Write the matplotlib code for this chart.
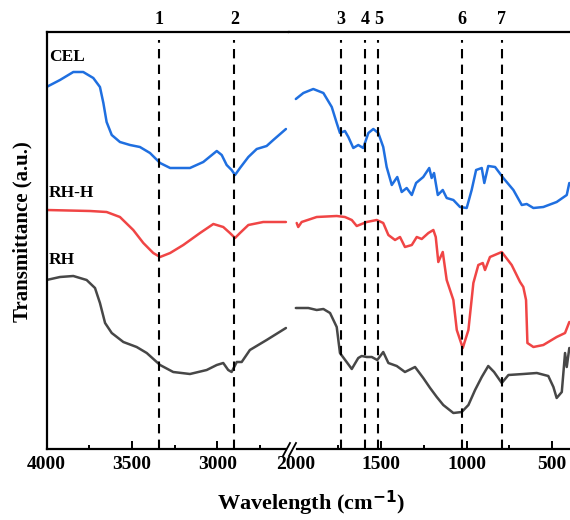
import matplotlib
matplotlib.use("Agg")
import matplotlib.pyplot as plt
from matplotlib.lines import Line2D
from matplotlib.ticker import FixedLocator

plt.rcParams['font.family'] = ['Liberation Serif', 'DejaVu Serif']
plt.rcParams['font.weight'] = 'bold'
plt.rcParams['mathtext.fontset'] = 'custom'
plt.rcParams['mathtext.rm'] = 'Liberation Serif:bold'
plt.rcParams['mathtext.default'] = 'rm'

# ---- data (wavenumber cm-1, transmittance a.u.) ----
# 4000-2600 region
cel_wn_hi = [4000, 3921, 3843, 3785, 3726, 3687, 3667, 3648, 3618, 3570, 3511, 3453,
             3394, 3335, 3276, 3160, 3082, 3003, 2974, 2945, 2916, 2896, 2867, 2818,
             2769, 2711, 2672, 2598]
cel_t_hi = [362, 369, 377, 377, 371, 362, 346, 327, 314, 307, 304, 302,
            296, 286, 281, 281, 287, 298, 294, 284, 279, 274, 281, 292,
            300, 303, 309, 320]

rhh_wn_hi = [4000, 3745, 3648, 3570, 3492, 3433, 3375, 3335, 3276, 3199, 3101,
             3023, 2965, 2926, 2896, 2867, 2818, 2731, 2598]
rhh_t_hi = [239, 238, 237, 232, 219, 206, 196, 192, 196, 204, 216,
            225, 222, 216, 211, 216, 224, 227, 227]

rh_wn_hi = [4000, 3921, 3843, 3765, 3716, 3687, 3657, 3618, 3550, 3472, 3413, 3335,
            3258, 3160, 3062, 3003, 2965, 2936, 2916, 2886, 2857, 2809, 2711, 2598]
rh_t_hi = [169, 172, 173, 169, 161, 146, 126, 116, 107, 102, 96, 84,
           77, 75, 79, 84, 86, 79, 77, 87, 87, 99, 109, 121]

# 2000-400 region
cel_wn_lo = [1998, 1954, 1896, 1837, 1788, 1759, 1740, 1711, 1691, 1662, 1633, 1604,
             1574, 1545, 1516, 1487, 1467, 1437, 1405, 1379, 1350, 1320, 1295, 1253,
             1218, 1204, 1190, 1168, 1139, 1116, 1077, 1038, 999, 970, 944, 911, 896,
             873, 833, 785, 726, 677, 648, 609, 551, 473, 414, 399]
cel_t_lo = [350, 356, 360, 356, 342, 326, 316, 318, 312, 301, 304, 301,
            316, 320, 316, 302, 282, 264, 272, 257, 261, 254, 266, 272,
            281, 271, 276, 254, 259, 251, 249, 242, 241, 259, 279, 281, 266,
            283, 282, 271, 259, 244, 245, 241, 242, 247, 254, 266]

rhh_wn_lo = [1993, 1984, 1964, 1876, 1759, 1711, 1671, 1642, 1584, 1525, 1487, 1457,
             1418, 1389, 1360, 1320, 1291, 1262, 1223, 1194, 1180, 1165, 1139, 1116,
             1077, 1057, 1022, 989, 960, 931, 905, 892, 863, 794, 736, 687, 668, 652,
             644, 609, 551, 473, 424, 399]
rhh_t_lo = [226, 222, 227, 232, 233, 232, 229, 223, 227, 229, 226, 214,
            209, 212, 202, 204, 212, 210, 216, 219, 212, 187, 197, 169,
            149, 119, 101, 119, 166, 184, 186, 179, 192, 197, 184, 167, 162, 149,
            106, 102, 104, 112, 116, 127]

rh_wn_lo = [1998, 1925, 1876, 1837, 1798, 1759, 1740, 1701, 1671, 1633, 1613, 1584,
            1554, 1522, 1487, 1457, 1408, 1360, 1301, 1253, 1213, 1174, 1136, 1077,
            1028, 989, 950, 911, 873, 839, 794, 755, 668, 589, 522, 492, 473, 443,
            424, 414, 399]
rh_t_lo = [141, 141, 139, 140, 136, 122, 96, 87, 80, 91, 93, 92,
           92, 89, 97, 86, 83, 77, 82, 71, 61, 52, 44, 36,
           37, 44, 59, 72, 83, 77, 66, 74, 75, 76, 73, 62, 51, 57,
           96, 82, 101]

peak_pos = [3340, 2900, 1735, 1595, 1515, 1028, 795]
peak_labels = ['1', '2', '3', '4', '5', '6', '7']

series = [
    ('CEL', '#1f6fe0', cel_wn_hi, cel_t_hi, cel_wn_lo, cel_t_lo),
    ('RH-H', '#f04545', rhh_wn_hi, rhh_t_hi, rhh_wn_lo, rhh_t_lo),
    ('RH', '#474747', rh_wn_hi, rh_t_hi, rh_wn_lo, rh_t_lo),
]
label_y = {'CEL': 392, 'RH-H': 256, 'RH': 189}

W, H = 570, 520
fig = plt.figure(figsize=(W / 100, H / 100), dpi=100)
bot, top = 449, 32
ax1 = fig.add_axes([46.5 / W, (H - bot) / H, (289 - 46.5) / W, (bot - top) / H])
ax2 = fig.add_axes([289 / W, (H - bot) / H, (570 - 289) / W, (bot - top) / H])

ax1.set_xlim(4000, 2580)
ax2.set_xlim(2038, 395)
for ax in (ax1, ax2):
    ax.set_ylim(0, 417)
    ax.set_yticks([])
    for s in ax.spines.values():
        s.set_linewidth(1.6)

for name, c, xh, yh, xl, yl in series:
    ax1.plot(xh, yh, color=c, lw=1.8, solid_joinstyle='round', solid_capstyle='round')
    ax2.plot(xl, yl, color=c, lw=1.8, solid_joinstyle='round', solid_capstyle='round')
    ax1.text(3985, label_y[name], name, fontsize=12.5, fontweight='bold', va='center', ha='left')

# spines / axis break
ax1.spines['right'].set_visible(False)
ax2.spines['left'].set_visible(False)
ax2.spines['right'].set_visible(False)
ax1.spines['bottom'].set_bounds(4000, 2600)
ax2.spines['bottom'].set_bounds(1991, 395)
for x0 in (283, 289):
    fig.add_artist(Line2D([x0 / W, (x0 + 7) / W], [(H - 456) / H, (H - 443) / H],
                          transform=fig.transFigure, color='black', lw=1.3))

# ticks
ax1.xaxis.set_major_locator(FixedLocator([4000, 3500, 3000]))
ax1.xaxis.set_minor_locator(FixedLocator([3750, 3250, 2750]))
ax2.xaxis.set_major_locator(FixedLocator([2000, 1500, 1000, 500]))
ax2.xaxis.set_minor_locator(FixedLocator([1750, 1250, 750]))
for ax in (ax1, ax2):
    ax.tick_params(axis='x', which='major', direction='in', length=6, width=1.4,
                   labelsize=14, pad=5, top=False)
    ax.tick_params(axis='x', which='minor', direction='in', length=3, width=1.4, top=False)
ax2.xaxis.get_major_ticks()[0].tick1line.set_visible(False)

# dashed peak markers
for p, lab in zip(peak_pos, peak_labels):
    ax = ax1 if p > 2000 else ax2
    ax.axvline(p, ymin=0, ymax=0.98, color='black', lw=1.5, linestyle=(0, (4.5, 3)))
    ax.text(p, 1.03, lab, transform=ax.get_xaxis_transform(), ha='center', va='center',
            fontsize=13, fontweight='bold')

fig.text(22 / W, 1 - 232 / H, 'Transmittance (a.u.)', rotation=90, ha='center', va='center',
         fontsize=15, fontweight='bold')
fig.text(311 / W, 1 - 503 / H, 'Wavelength (cm$^{\\mathbf{-1}}$)', ha='center', va='center',
         fontsize=16, fontweight='bold')

fig.savefig('out.png', dpi=100)
